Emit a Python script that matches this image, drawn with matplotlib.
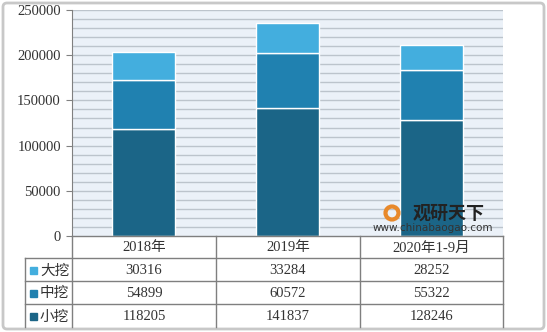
import matplotlib.pyplot as plt
from matplotlib.patches import FancyBboxPatch, Rectangle
import numpy as np

# data
categories = ["2018年", "2019年", "2020年1-9月"]
series_names = ["大挖", "中挖", "小挖"]
small = [118205, 141837, 128246]
medium = [54899, 60572, 55322]
large = [30316, 33284, 28252]
colors = {"小挖": "#1B6587", "中挖": "#2081B0", "大挖": "#43AEDE"}

fams = ["Liberation Serif", "Noto Sans CJK SC"]
plt.rcParams["font.family"] = fams

W, H = 547, 332
fig = plt.figure(figsize=(W / 100, H / 100), dpi=100)

# pixel layout of plot area
L, R, T, B = 72, 503, 10, 236
ax = fig.add_axes([L / W, 1 - B / H, (R - L) / W, (B - T) / H])
ax.set_facecolor("#EBF1F8")
ax.set_xlim(-0.5, 2.5)
ax.set_ylim(0, 250000)

for v in np.arange(10000, 250001, 10000):
    ax.axhline(v, color="#BCC4CC", lw=1.0, zorder=1)

x = np.arange(len(categories))
bw = 0.44
ax.bar(x, small, bw, color=colors["小挖"], edgecolor="white", lw=1, zorder=3)
ax.bar(x, medium, bw, bottom=small, color=colors["中挖"], edgecolor="white", lw=1, zorder=3)
ax.bar(x, large, bw, bottom=np.array(small) + np.array(medium), color=colors["大挖"],
       edgecolor="white", lw=1, zorder=3)

ax.set_yticks(np.arange(0, 250001, 50000))
ax.set_yticklabels([str(v) for v in range(0, 250001, 50000)], fontsize=10.5, color="#333333")
ax.tick_params(axis="y", length=4, color="#808080", pad=4)
ax.set_xticks([])
for s in ["top", "right", "bottom"]:
    ax.spines[s].set_visible(False)
ax.spines["left"].set_color("#808080")

# overlay in pixel coordinates for table and frame
ov = fig.add_axes([0, 0, 1, 1], zorder=5)
ov.set_xlim(0, W)
ov.set_ylim(H, 0)
ov.axis("off")
ov.patch.set_alpha(0)

ov.add_patch(FancyBboxPatch((3, 3), W - 6, H - 6, boxstyle="round,pad=0,rounding_size=4",
                            fill=False, ec="#C8C8C8", lw=2))

lc = "#7F7F7F"
col_x = [L, 216, 360, R]
row_y = [B, 258, 281, 304, 327]
ov.plot([L, R], [B, B], color=lc, lw=1)
for cx in col_x:
    ov.plot([cx, cx], [B, row_y[-1]], color=lc, lw=1)
ov.plot([25, 25], [row_y[1], row_y[-1]], color=lc, lw=1)
for ry in row_y[1:4]:
    ov.plot([25, R], [ry, ry], color=lc, lw=1)

for i, c in enumerate(categories):
    ov.text((col_x[i] + col_x[i + 1]) / 2, (row_y[0] + row_y[1]) / 2 + 1, c,
            ha="center", va="center", fontsize=10.5, color="#333333")

table_vals = {"大挖": large, "中挖": medium, "小挖": small}
for r, name in enumerate(series_names):
    yc = (row_y[r + 1] + row_y[r + 2]) / 2 + 1
    ov.add_patch(Rectangle((30, yc - 3.5), 7, 7, color=colors[name]))
    ov.text(40, yc, name, ha="left", va="center", fontsize=10.5, color="#333333",
            family=["Noto Sans CJK SC"])
    for i, v in enumerate(table_vals[name]):
        ov.text((col_x[i] + col_x[i + 1]) / 2, yc, str(v), ha="center", va="center",
                fontsize=10.5, color="#333333")

# watermark
ov.text(413, 213, "观研天下", fontsize=13, fontweight="bold", color="#222222",
        ha="left", va="center", family=["Noto Sans CJK SC"])
ov.text(433, 228, "www.chinabaogao.com", fontsize=7.5, color="#333333",
        ha="center", va="center", family=["DejaVu Sans"])
ov.add_patch(plt.Circle((392, 213), 6.5, fill=False, ec="#E8892B", lw=3))

fig.savefig("out.png", dpi=100)
